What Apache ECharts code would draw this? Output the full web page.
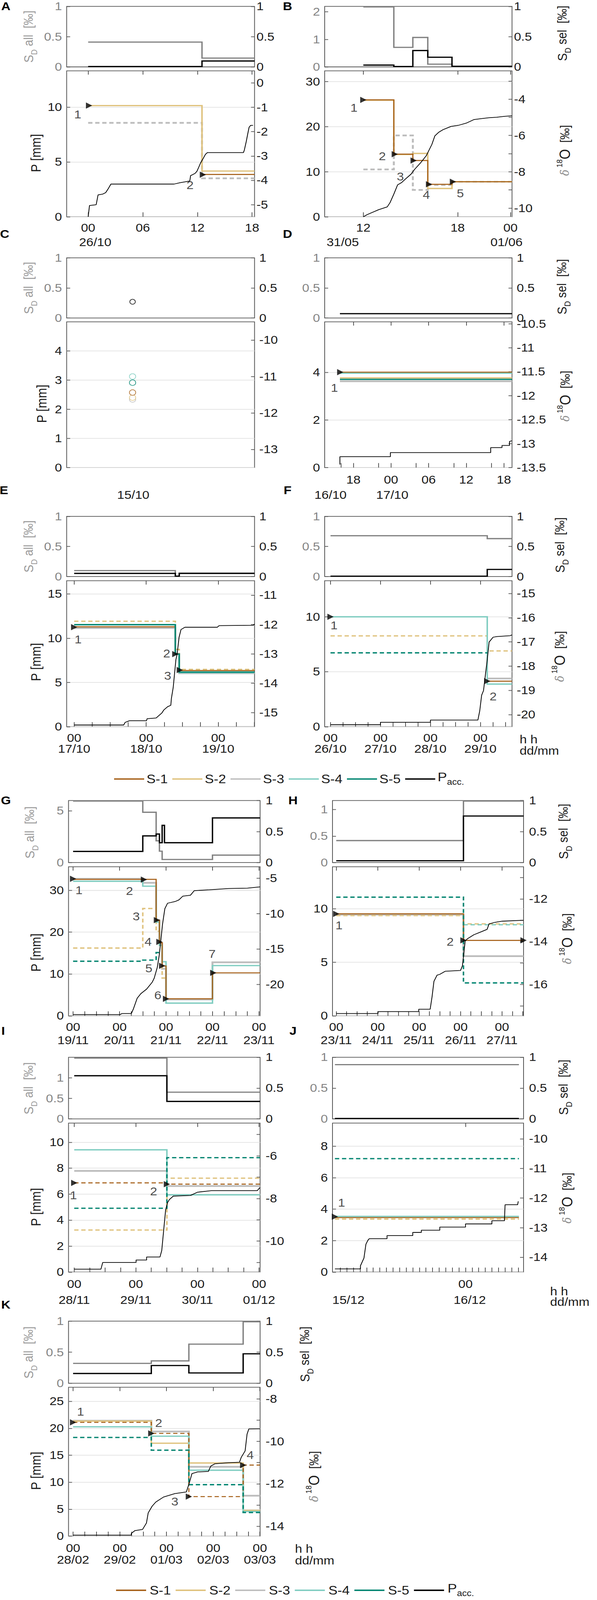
<!DOCTYPE html>
<html><head><meta charset="utf-8">
<script src="https://cdn.jsdelivr.net/npm/echarts@6/dist/echarts.min.js"></script>
<style>html,body{margin:0;padding:0;background:#fff;overflow:hidden}#c{width:1528px;height:4609px;transform-origin:0 0}</style>
</head><body><div id="c"></div>
<script>
// ===================== DATA =====================
// Panel A
const A_hhValues = [0, 6, 12, 18];
const A_hhLabels = ['00', '06', '12', '18'];
const A_dateValues = [0.78];
const A_dateLabels = ['26/10'];
const A_sdX = [0, 12.5, 18.27];
const A_sdAll = [0.41, 0.145];
const A_sdSel = [0.006, 0.098];
const A_stepX = [0, 12.5, 18.27];
const A_S1 = [null, -3.76];
const A_S2 = [-0.93, -3.62];
const A_S3 = [-1.64, -3.92];
const A_S4 = [null, null];
const A_S5 = [null, null];
const A_markX = [0.1, 12.6];
const A_markV = [-0.93, -3.77];
const A_markL = ['1', '2'];
const A_paccT = [0, 0.15, 0.88, 1.09, 1.61, 1.92, 2.23, 2.5, 9.43, 10.06, 11.16, 11.25, 11.52, 11.73, 11.94, 12.15, 12.35, 12.62, 12.88, 13.09, 17.05, 17.15, 17.36, 17.51, 17.67, 17.84, 18.1];
const A_paccP = [0, 1.03, 1.1, 2.0, 2.07, 2.2, 2.59, 2.98, 2.98, 3.1, 3.26, 3.75, 3.86, 3.95, 4.14, 4.53, 4.92, 5.3, 5.69, 5.85, 5.85, 6.08, 6.86, 7.5, 8.15, 8.33, 8.33];

// Panel B
const B_hhValues = [12, 18, 21.36];
const B_hhLabels = ['12', '18', '00'];
const B_dateValues = [10.69, 21.11];
const B_dateLabels = ['31/05', '01/06'];
const B_sdX = [12, 13.94, 15.15, 16.1, 17.64, 21.46];
const B_sdAll = [2.18, 0.71, 1.07, 0.10, 0.02];
const B_sdSel = [0.03, 0.006, 0.27, 0.16, 0.01];
const B_stepX = [12, 13.94, 15.15, 16.1, 17.64, 21.46];
const B_S1 = [-4.04, -7.03, -7.38, -8.69, -8.55];
const B_S2 = [-4.06, -7.05, -6.99, -8.92, -8.55];
const B_S3 = [-7.87, -6.0, -9.0, -8.73, -8.55];
const B_S4 = [null, null, null, null, null];
const B_S5 = [null, null, null, null, null];
const B_markX = [12.0, 14.0, 15.2, 16.18, 17.7];
const B_markV = [-4.04, -7.03, -7.38, -8.69, -8.55];
const B_markL = ['1', '2', '3', '4', '5'];
const B_paccT = [12.0, 12.24, 12.97, 13.52, 13.70, 13.94, 14.18, 14.42, 14.67, 15.03, 15.27, 15.64, 16.0, 16.36, 16.55, 16.79, 17.09, 17.58, 18.06, 18.55, 19.03, 19.52, 20.0, 20.49, 20.97, 21.46];
const B_paccP = [0, 0.47, 1.57, 2.2, 3.15, 5.04, 7.09, 7.56, 8.35, 9.45, 10.55, 11.97, 13.54, 16.06, 17.95, 18.74, 19.37, 20.06, 20.31, 20.79, 21.57, 21.8, 21.98, 22.1, 22.3, 22.43];

// Panel C (single sample)
const C_dateValues = [8.51];
const C_dateLabels = ['15/10'];
const C_sampleX = [8.42];
const C_sampleV = [-11.44, -11.58, -11.63, -11.0, -11.17]; // S-1..S-5
const C_sdSelX = [8.42];
const C_sdSelV = [0.27];
const C_markX = [8.42];
const C_markV = [-11.63];
const C_markL = ['1'];

// Panel D
const D_hhValues = [18, 24, 30, 36, 42];
const D_hhLabels = ['18', '00', '06', '12', '18'];
const D_minor = [16, 22, 28, 34, 40];
const D_dateValues = [14.35, 24.2];
const D_dateLabels = ['16/10', '17/10'];
const D_sdX = [15.85, 43.3];
const D_sdAll = [null];
const D_sdSel = [0.072];
const D_stepX = [15.85, 43.3];
const D_S1 = [-11.51];
const D_S2 = [-11.63];
const D_S3 = [-11.70];
const D_S4 = [-11.53];
const D_S5 = [-11.66];
const D_markX = [15.9];
const D_markV = [-11.51];
const D_markL = ['1'];
const D_paccT = [15.85, 15.85, 23.9, 23.9, 39.9, 39.9, 41.7, 41.7, 42.9, 42.9, 43.3];
const D_paccP = [0.13, 0.46, 0.46, 0.63, 0.63, 0.84, 0.84, 0.93, 0.93, 1.1, 1.13];

// Panel E
const E_hhValues = [0, 24, 48];
const E_hhLabels = ['00', '00', '00'];
const E_minor = [6, 12, 18, 30, 36, 42, 54, 60];
const E_dateValues = [0, 24, 48];
const E_dateLabels = ['17/10', '18/10', '19/10'];
const E_sdX = [0, 33.7, 35.0, 60.1];
const E_sdAll = [0.098, 0.006, 0.055];
const E_sdSel = [0.052, 0.006, 0.052];
const E_stepX = [0, 33.7, 35.0, 60.1];
const E_S1 = [-12.08, -13.0, -13.57];
const E_S2 = [-11.89, -12.85, -13.53];
const E_S3 = [-12.12, -13.0, -13.66];
const E_S4 = [-12.0, -13.0, -13.64];
const E_S5 = [-12.01, -13.01, -13.62];
const E_markX = [0, 33.7, 35.2];
const E_markV = [-12.09, -13.01, -13.55];
const E_markL = ['1', '2', '3'];
const E_paccT = [0, 16.5, 17.0, 18.4, 24.1, 24.3, 27.3, 29.2, 29.9, 31.1, 32.2, 32.4, 33.0, 33.4, 33.9, 34.3, 34.95, 35.6, 36.9, 47.7, 48.3, 59.7, 60.1];
const E_paccP = [0.19, 0.19, 0.49, 0.67, 0.67, 0.9, 0.98, 1.54, 1.9, 2.25, 2.42, 3.2, 4.43, 5.83, 7.58, 8.18, 10.1, 10.98, 11.24, 11.24, 11.42, 11.47, 11.6];

// Panel F
const F_hhValues = [0, 24, 48, 72];
const F_hhLabels = ['00', '00', '00', '00'];
const F_minor = [6, 12, 18, 30, 36, 42, 54, 60, 66, 78, 84];
const F_dateValues = [0, 24, 48, 72];
const F_dateLabels = ['26/10', '27/10', '28/10', '29/10'];
const F_sdX = [0, 75.3, 87.2];
const F_sdAll = [0.678, 0.63];
const F_sdSel = [0.006, 0.118];
const F_stepX = [0, 75.3, 87.2];
const F_S1 = [null, -18.62];
const F_S2 = [-16.75, -17.37];
const F_S3 = [null, -18.51];
const F_S4 = [-15.96, -18.74];
const F_S5 = [-17.45, null];
const F_markX = [0, 75.3];
const F_markV = [-15.96, -18.62];
const F_markL = ['1', '2'];
const F_paccT = [0, 24, 24, 48, 48, 70.8, 71.7, 72.6, 73.5, 75.3, 76.2, 78.1, 79.9, 86.3, 87.2];
const F_paccP = [0.18, 0.18, 0.4, 0.4, 0.6, 0.6, 1.45, 2.86, 3.28, 6.1, 7.7, 8.14, 8.2, 8.28, 8.35];

// Panel G
const G_hhValues = [0, 24, 48, 72, 96];
const G_hhLabels = ['00', '00', '00', '00', '00'];
const G_minor = [6, 12, 18, 30, 36, 42, 54, 60, 66, 78, 84, 90];
const G_dateValues = [0, 24, 48, 72, 96];
const G_dateLabels = ['19/11', '20/11', '21/11', '22/11', '23/11'];
const G_sdX = [0, 36.0, 42.9, 44.6, 46.0, 47.2, 72.0, 96.6];
const G_sdAll = [5.93, 4.85, 2.1, 1.1, 0.3, 0.3, 0.72];
const G_sdSel = [0.18, 0.43, 0.46, 0.32, 0.6, 0.32, 0.72];
const G_stepX = [0, 36.0, 42.9, 44.6, 46.0, 48.0, 72.0, 96.6];
const G_S1 = [-5.17, -5.17, -10.93, -14.1, -17.4, -22.03, -18.37];
const G_S2 = [-14.87, -9.29, -12.5, -14.5, -19.1, null, null];
const G_S3 = [-5.1, -5.66, -11.0, -14.2, -17.8, -22.13, -16.88];
const G_S4 = [-5.44, -6.14, -11.2, -14.5, -16.8, -22.64, -17.34];
const G_S5 = [-16.73, -16.57, -15.5, null, null, null, null];
const G_markX = [0, 36.6, 43.3, 44.6, 46.0, 48.0, 72.4];
const G_markV = [-5.1, -5.2, -10.93, -14.0, -17.38, -22.04, -18.37];
const G_markL = ['1', '2', '3', '4', '5', '6', '7'];
const G_paccT = [0, 24.2, 25.2, 30.1, 31.1, 33.1, 35.0, 38.0, 40.9, 41.9, 43.5, 44.5, 45.3, 46.2, 47.4, 48.8, 52.7, 54.7, 56.7, 60.6, 62.6, 70.4, 80.3, 90.1, 96.6];
const G_paccP = [0.29, 0.29, 0.55, 0.55, 1.6, 4.2, 5.3, 6.4, 8.06, 9.0, 11.6, 14.5, 17.9, 21.9, 25.6, 26.9, 27.3, 27.7, 28.6, 28.8, 29.9, 30.1, 30.4, 30.5, 30.8];

// Panel H
const H_hhValues = [0, 24, 48, 72, 96];
const H_hhLabels = ['00', '00', '00', '00', '00'];
const H_minor = [6, 12, 18, 30, 36, 42, 54, 60, 66, 78, 84, 90, 102, 108];
const H_dateValues = [0, 24, 48, 72, 96];
const H_dateLabels = ['23/11', '24/11', '25/11', '26/11', '27/11'];
const H_sdX = [0, 73.7, 108.5];
const H_sdAll = [0.415, 1.16];
const H_sdSel = [0.03, 0.75];
const H_stepX = [0, 73.7, 108.5];
const H_S1 = [-12.7, -13.94];
const H_S2 = [-12.78, -13.17];
const H_S3 = [-12.74, -14.68];
const H_S4 = [null, -13.21];
const H_S5 = [-11.92, -15.93];
const H_markX = [0, 73.7, 108.5];
const H_markV = [-12.7, -13.94, -13.94];
const H_markL = ['1', '2', ''];
const H_paccT = [0, 24.2, 24.2, 47.8, 47.8, 54.4, 55.5, 56.6, 58.4, 59.9, 63.2, 72.0, 73.1, 74.7, 76.0, 79.7, 84.1, 87.4, 88.5, 91.8, 96.2, 108.4];
const H_paccP = [0.22, 0.22, 0.4, 0.4, 0.62, 0.62, 1.78, 3.23, 3.8, 3.87, 4.17, 4.24, 4.68, 6.99, 7.2, 7.57, 7.86, 8.08, 8.58, 8.73, 8.84, 8.93];

// Panel I
const I_hhValues = [0, 24, 48, 72];
const I_hhLabels = ['00', '00', '00', '00'];
const I_minor = [6, 12, 18, 30, 36, 42, 54, 60, 66];
const I_dateValues = [0, 24, 48, 72];
const I_dateLabels = ['28/11', '29/11', '30/11', '01/12'];
const I_sdX = [0, 36.1, 72.4];
const I_sdAll = [1.48, 0.65];
const I_sdSel = [0.70, 0.284];
const I_stepX = [0, 36.1, 72.4];
const I_S1 = [-7.27, -7.33];
const I_S2 = [-9.48, -7.05];
const I_S3 = [-6.71, -7.42];
const I_S4 = [-5.72, -7.83];
const I_S5 = [-8.46, -6.09];
const I_markX = [0, 36.1];
const I_markV = [-7.27, -7.33];
const I_markL = ['1', '2'];
const I_paccT = [0, 10.4, 11.1, 24.1, 24.1, 28.2, 28.2, 33.4, 34.1, 34.9, 35.6, 36.4, 37.1, 38.6, 45.3, 48.0, 53.4, 71.3, 72.3];
const I_paccP = [0.22, 0.22, 0.74, 0.74, 0.93, 0.93, 1.16, 1.16, 1.67, 3.34, 4.78, 5.37, 5.59, 5.85, 5.9, 6.15, 6.27, 6.27, 6.5];

// Panel J
const J_hhValues = [24];
const J_hhLabels = ['00'];
const J_minor = [5, 6, 7, 8, 9, 10, 11, 12, 13, 14, 15, 16, 17, 18, 19, 20, 21, 22, 23, 25, 26, 27, 28, 29, 30, 31, 32];
const J_dateValues = [6.25, 24.64];
const J_dateLabels = ['15/12', '16/12'];
const J_sdX = [4.2, 32.1];
const J_sdAll = [0.88];
const J_sdSel = [0.008];
const J_stepX = [4.2, 32.1];
const J_S1 = [-12.66];
const J_S2 = [-12.71];
const J_S3 = [null];
const J_S4 = [-12.62];
const J_S5 = [-10.67];
const J_markX = [4.2];
const J_markV = [-12.63];
const J_markL = ['1'];
const J_paccT = [4.2, 8.07, 8.07, 8.6, 8.9, 9.2, 9.4, 12.1, 12.1, 16.0, 16.0, 17.3, 17.3, 20.1, 20.1, 24.0, 24.0, 28.0, 28.0, 29.9, 30.0, 31.9, 32.0];
const J_paccP = [0.2, 0.2, 0.4, 0.89, 1.77, 2.02, 2.12, 2.12, 2.32, 2.32, 2.52, 2.52, 2.66, 2.66, 2.86, 2.86, 3.06, 3.06, 3.26, 3.26, 4.28, 4.28, 4.5];

// Panel K
const K_hhValues = [0, 24, 48, 72, 96];
const K_hhLabels = ['00', '00', '00', '00', '00'];
const K_minor = [6, 12, 18, 30, 36, 42, 54, 60, 66, 78, 84, 90];
const K_dateValues = [0, 24, 48, 72, 96];
const K_dateLabels = ['28/02', '29/02', '01/03', '02/03', '03/03'];
const K_sdX = [0, 40.2, 59.5, 87.4, 96.1];
const K_sdAll = [0.32, 0.36, 0.63, 0.99];
const K_sdSel = [0.157, 0.285, 0.166, 0.474];
const K_stepX = [0, 40.2, 59.5, 87.4, 96.1];
const K_S1 = [-9.11, -9.63, -12.6, -11.12];
const K_S2 = [-9.05, -10.09, -11.02, -13.25];
const K_S3 = [-9.03, -9.54, -11.2, -12.56];
const K_S4 = [-9.32, -9.76, -11.36, -13.3];
const K_S5 = [-9.82, -10.42, -12.04, -13.35];
const K_markX = [0, 40.2, 59.5, 87.4];
const K_markV = [-9.11, -9.63, -12.6, -11.12];
const K_markL = ['1', '2', '3', '4'];
const K_paccT = [0, 29.9, 29.9, 31.8, 35.7, 37.7, 38.6, 40.6, 42.5, 46.5, 52.3, 58.2, 59.5, 61.1, 64.0, 69.5, 70.8, 72.8, 79.6, 85.5, 86.4, 88.4, 89.4, 90.3, 96.0];
const K_paccP = [0.19, 0.19, 0.5, 1.03, 1.24, 2.43, 4.3, 5.54, 6.32, 7.25, 7.88, 8.19, 9.6, 11.6, 11.9, 12.0, 13.0, 13.4, 13.6, 13.7, 14.6, 15.8, 18.9, 19.87, 19.9];

const LEGEND_NAMES = ['S-1', 'S-2', 'S-3', 'S-4', 'S-5'];

// ===================== STYLE / LAYOUT =====================
const FONT = "'Liberation Sans', Arial, sans-serif";
const FS = 33;
const SCOL = ['#a6611a', '#dfc27d', '#bdbdbd', '#80cdc1', '#018571'];
const GRAYL = '#858585';
const TXT = '#1a1a1a';
const TICK = '#555';
const BORDER = '#555';
const DRAW_ORDER = [2, 1, 3, 0, 4];

const panels = [
  {L:'A', letter:[15,18], left:170.6, right:651.5, top:[18.4,192.7], bot:[204,624.5], xMin:-2.36, xMax:18.27,
   hhV:A_hhValues, hhL:A_hhLabels, minor:[], dateV:A_dateValues, dateL:A_dateLabels, hhM:15, dateM:57,
   sdMax:1, sdTicks:[0,0.5,1], sdX:A_sdX, sdAll:A_sdAll, sdSel:A_sdSel,
   pMax:13.3, pInt:5, pTicks:[0,5,10], dMin:-5.5, dMax:0.5, dTicks:[-5,-4,-3,-2,-1,0], dMinor:[],
   stepX:A_stepX, S:[A_S1,A_S2,A_S3,A_S4,A_S5], dash:[false,false,true,false,false],
   mX:A_markX, mV:A_markV, mL:A_markL, mOff:[[-29,26],[-33,30]], paccT:A_paccT, paccP:A_paccP,
   rM:5, leftSD:[73,105.5], pName:[92,441]},
  {L:'B', letter:[736,18], left:831, right:1310.5, top:[18.4,192.7], bot:[204,624.5], xMin:9.54, xMax:21.46,
   hhV:B_hhValues, hhL:B_hhLabels, minor:[], dateV:B_dateValues, dateL:B_dateLabels, hhM:15, dateM:57,
   sdMax:2.2, sdTicks:[0,1,2], sdX:B_sdX, sdAll:B_sdAll, sdSel:B_sdSel,
   pMax:32.4, pInt:10, pTicks:[0,10,20,30], dMin:-10.48, dMax:-2.44, dTicks:[-10,-8,-6,-4], dMinor:[-9,-7,-5,-3],
   stepX:B_stepX, S:[B_S1,B_S2,B_S3,B_S4,B_S5], dash:[false,false,true,false,false],
   mX:B_markX, mV:B_markV, mL:B_markL, mOff:[[-24,23],[-32,6],[-34,46],[-7,31],[19,34]], paccT:B_paccT, paccP:B_paccP,
   rM:5, rightSD:[1439,96], dName:[1446,433]},
  {L:'C', letter:[12,674], left:170.6, right:651.5, top:[742.9,916], bot:[927,1347], xMin:0, xMax:24,
   hhV:[], hhL:[], minor:[], dateV:C_dateValues, dateL:C_dateLabels, hhM:15, dateM:62,
   sdMax:1, sdTicks:[0,0.5,1], sdX:null,
   pMax:5, pInt:1, pTicks:[0,1,2,3,4], dMin:-13.5, dMax:-9.5, dTicks:[-13,-12,-11,-10], dMinor:[],
   circles:true, mX:C_markX, mV:C_markV, mL:C_markL, mOff:[[2,63]], markNone:true,
   rM:12, leftSD:[73,829.5], pName:[107,1163]},
  {L:'D', letter:[736,674], left:831, right:1310.5, top:[742.9,916], bot:[927,1347], xMin:13.42, xMax:43.3,
   hhV:D_hhValues, hhL:D_hhLabels, minor:D_minor, dateV:D_dateValues, dateL:D_dateLabels, hhM:18, dateM:62,
   sdMax:1, sdTicks:[0,0.5,1], sdX:D_sdX, sdAll:D_sdAll, sdSel:D_sdSel,
   pMax:6.13, pInt:2, pTicks:[0,2,4], dMin:-13.5, dMax:-10.46, dTicks:[-13.5,-13,-12.5,-12,-11.5,-11,-10.5], dMinor:[],
   stepX:D_stepX, S:[D_S1,D_S2,D_S3,D_S4,D_S5], dash:[false,false,false,false,false],
   mX:D_markX, mV:D_markV, mL:D_markL, mOff:[[-15,45]], paccT:D_paccT, paccP:D_paccP,
   rM:12, rightSD:[1438,826], dName:[1447,1141], topRPad:[0,0,14,0], botRPad:[12,0,0,0]},
  {L:'E', letter:[10,1412], left:170.6, right:651.5, top:[1487.5,1660.7], bot:[1672.8,2093.3], xMin:-2.5, xMax:60.1,
   hhV:E_hhValues, hhL:E_hhLabels, minor:E_minor, dateV:E_dateValues, dateL:E_dateLabels, hhM:16, dateM:48,
   sdMax:1, sdTicks:[0,0.5,1], sdX:E_sdX, sdAll:E_sdAll, sdSel:E_sdSel,
   pMax:16.5, pInt:5, pTicks:[0,5,10,15], dMin:-15.48, dMax:-10.51, dTicks:[-15,-14,-13,-12,-11], dMinor:[],
   stepX:E_stepX, S:[E_S1,E_S2,E_S3,E_S4,E_S5], dash:[false,true,false,false,false],
   mX:E_markX, mV:E_markV, mL:E_markL, mOff:[[10,36],[-22,-2],[-31,17]], paccT:E_paccT, paccP:E_paccP,
   rM:12, leftSD:[73,1574], pName:[92,1907]},
  {L:'F', letter:[736,1412], left:831, right:1310.5, top:[1487.5,1660.7], bot:[1672.8,2093.3], xMin:-2.8, xMax:87.2,
   hhV:F_hhValues, hhL:F_hhLabels, minor:F_minor, dateV:F_dateValues, dateL:F_dateLabels, hhM:16, dateM:48,
   sdMax:1, sdTicks:[0,0.5,1], sdX:F_sdX, sdAll:F_sdAll, sdSel:F_sdSel,
   pMax:13.28, pInt:5, pTicks:[0,5,10], dMin:-20.5, dMax:-14.47, dTicks:[-20,-19,-18,-17,-16,-15], dMinor:[],
   stepX:F_stepX, S:[F_S1,F_S2,F_S3,F_S4,F_S5], dash:[false,true,false,false,true],
   mX:F_markX, mV:F_markV, mL:F_markL, mOff:[[9,25],[15,44]], paccT:F_paccT, paccP:F_paccP,
   rM:12, rightSD:[1433,1570], dName:[1433,1891], hhdd:[1330,2130,2163]},
  {L:'G', letter:[15,2306], left:175.4, right:665.7, top:[2306,2484.8], bot:[2496.9,2926.3], xMin:-2.36, xMax:96.6,
   hhV:G_hhValues, hhL:G_hhLabels, minor:G_minor, dateV:G_dateValues, dateL:G_dateLabels, hhM:16, dateM:54,
   sdMax:5.98, sdTicks:[0,5], sdX:G_sdX, sdAll:G_sdAll, sdSel:G_sdSel,
   pMax:35.6, pInt:10, pTicks:[0,10,20,30], dMin:-24.44, dMax:-3.4, dTicks:[-20,-15,-10,-5], dMinor:[],
   stepX:G_stepX, S:[G_S1,G_S2,G_S3,G_S4,G_S5], dash:[false,true,false,false,true],
   mX:G_markX, mV:G_markV, mL:G_markL, mOff:[[15,33],[-37,33],[-53,-11],[-29,0],[-34,7],[-21,-10],[-3,-54]], paccT:G_paccT, paccP:G_paccP,
   rM:14, leftSD:[76,2398], pName:[92,2744]},
  {L:'H', letter:[750,2306], left:851, right:1340, top:[2306,2484.8], bot:[2496.9,2926.3], xMin:-2.17, xMax:108.5,
   hhV:H_hhValues, hhL:H_hhLabels, minor:H_minor, dateV:H_dateValues, dateL:H_dateLabels, hhM:16, dateM:54,
   sdMax:1.17, sdTicks:[0,0.5,1], sdX:H_sdX, sdAll:H_sdAll, sdSel:H_sdSel,
   pMax:13.92, pInt:5, pTicks:[0,5,10], dMin:-17.47, dMax:-10.5, dTicks:[-16,-14,-12], dMinor:[-17,-15,-13,-11],
   stepX:H_stepX, S:[H_S1,H_S2,H_S3,H_S4,H_S5], dash:[false,true,false,true,true],
   mX:H_markX, mV:H_markV, mL:H_markL, mOff:[[7,33],[-34,4],[0,0]], paccT:H_paccT, paccP:H_paccP,
   rM:14, rightSD:[1442,2395], dName:[1452,2704]},
  {L:'I', letter:[8,2970], left:175.4, right:665.7, top:[3045.5,3223.2], bot:[3235.3,3664.3], xMin:-2.22, xMax:72.4,
   hhV:I_hhValues, hhL:I_hhLabels, minor:I_minor, dateV:I_dateValues, dateL:I_dateLabels, hhM:18, dateM:64,
   sdMax:1.5, sdTicks:[0,0.5,1], sdX:I_sdX, sdAll:I_sdAll, sdSel:I_sdSel,
   pMax:11.47, pInt:2, pTicks:[0,2,4,6,8,10], dMin:-11.45, dMax:-4.47, dTicks:[-10,-8,-6], dMinor:[-11,-9,-7,-5],
   stepX:I_stepX, S:[I_S1,I_S2,I_S3,I_S4,I_S5], dash:[true,true,false,false,true],
   mX:I_markX, mV:I_markV, mL:I_markL, mOff:[[-2,36],[-34,21]], paccT:I_paccT, paccP:I_paccP,
   rM:14, leftSD:[73,3135], pName:[92,3477]},
  {L:'J', letter:[750,2970], left:851, right:1340, top:[3045.5,3223.2], bot:[3235.3,3664.3], xMin:3.83, xMax:32.8,
   hhV:J_hhValues, hhL:J_hhLabels, minor:J_minor, dateV:J_dateValues, dateL:J_dateLabels, hhM:18, dateM:64,
   sdMax:1, sdTicks:[0,0.5,1], sdX:J_sdX, sdAll:J_sdAll, sdSel:J_sdSel,
   pMax:9.47, pInt:2, pTicks:[0,2,4,6,8], dMin:-14.5, dMax:-9.47, dTicks:[-14,-13,-12,-11,-10], dMinor:[],
   stepX:J_stepX, S:[J_S1,J_S2,J_S3,J_S4,J_S5], dash:[false,true,false,false,true],
   mX:J_markX, mV:J_markV, mL:J_markL, mOff:[[17,-40]], paccT:J_paccT, paccP:J_paccP,
   rM:14, rightSD:[1442,3132], dName:[1452,3451], hhdd:[1408,3720,3751]},
  {L:'K', letter:[15,3758], left:175.4, right:665.7, top:[3805.8,3984.6], bot:[3996.2,4425], xMin:-2.34, xMax:96.1,
   hhV:K_hhValues, hhL:K_hhLabels, minor:K_minor, dateV:K_dateValues, dateL:K_dateLabels, hhM:18, dateM:52,
   sdMax:1, sdTicks:[0,0.5,1], sdX:K_sdX, sdAll:K_sdAll, sdSel:K_sdSel,
   pMax:27.6, pInt:5, pTicks:[0,5,10,15,20,25], dMin:-14.46, dMax:-7.46, dTicks:[-14,-12,-10,-8], dMinor:[-13,-11,-9],
   stepX:K_stepX, S:[K_S1,K_S2,K_S3,K_S4,K_S5], dash:[true,false,false,false,true],
   mX:K_markX, mV:K_markV, mL:K_markL, mOff:[[19,-31],[19,-30],[-36,15],[18,-29]], paccT:K_paccT, paccP:K_paccP,
   rM:14, leftSD:[73,3896], pName:[92,4237], rightSD:[780,3901], dName:[804,4253], hhdd:[755,4462,4496]}
];

// ===================== BUILD =====================
const option = {animation:false, backgroundColor:'#fff', grid:[], xAxis:[], yAxis:[], series:[], graphic:[]};

function lab(vals, labels) {
  return function (v) {
    for (let i = 0; i < vals.length; i++) if (Math.abs(vals[i] - v) < 1e-6) return labels[i];
    return '';
  };
}
function stepSegments(X, V) {
  const segs = []; let cur = null;
  for (let i = 0; i < V.length; i++) {
    if (V[i] == null) {
      if (cur) { cur.push([X[i], cur[cur.length - 1][1]]); segs.push(cur); cur = null; }
      continue;
    }
    if (!cur) cur = [];
    cur.push([X[i], V[i]]);
  }
  if (cur) { cur.push([X[V.length], cur[cur.length - 1][1]]); segs.push(cur); }
  return segs;
}
function yAx(g, pos, min, max, labels, ticks, color, margin, pad) {
  const lbl = {show:true, customValues:labels, color:color, fontSize:FS, fontFamily:FONT, margin:margin};
  if (pad) lbl.padding = pad;
  return {type:'value', gridIndex:g, position:pos, min:min, max:max,
    axisLine:{show:false, onZero:false}, splitLine:{show:false},
    axisTick:{show:true, inside:true, length:9, customValues:ticks, lineStyle:{color:TICK, width:2}},
    axisLabel:lbl};
}
function addStep(X, V, xi, yi, color, width, dashed, z) {
  stepSegments(X, V).forEach(function (seg) {
    option.series.push({type:'line', xAxisIndex:xi, yAxisIndex:yi, data:seg, step:'end', symbol:'none', silent:true, z:z,
      lineStyle:{color:color, width:width, type:dashed ? [11, 7] : 'solid', cap:'butt', join:'miter'}});
  });
}
function txt(x, y, text, opts) {
  opts = opts || {};
  option.graphic.push({type:'text', x:x, y:y, rotation:opts.rot || 0, silent:true, z:100,
    style:Object.assign({text:text, fontSize:opts.fs || FS, fontFamily:FONT, fontWeight:opts.fw || 'normal',
      fill:opts.color || TXT, align:opts.align || 'center', verticalAlign:'middle',
      textAlign:opts.align || 'center', textVerticalAlign:'middle'}, opts.rich ? {rich:opts.rich} : {})});
}

function buildPanel(p) {
  const W = p.right - p.left;
  const gT = option.grid.length, gB = gT + 1;
  option.grid.push({left:p.left, top:p.top[0], width:W, height:p.top[1] - p.top[0], show:true, borderColor:BORDER, borderWidth:2, containLabel:false});
  option.grid.push({left:p.left, top:p.bot[0], width:W, height:p.bot[1] - p.bot[0], show:true, borderColor:BORDER, borderWidth:2, containLabel:false});
  const hasHH = p.hhV.length > 0;
  const xT = option.xAxis.length;
  option.xAxis.push({type:'value', gridIndex:gT, min:p.xMin, max:p.xMax, show:false, axisLine:{onZero:false}});
  const xB = xT + 1;
  option.xAxis.push({type:'value', gridIndex:gB, min:p.xMin, max:p.xMax, position:'bottom',
    axisLine:{show:false, onZero:false}, splitLine:{show:false},
    axisTick:{show:hasHH, inside:true, length:13, customValues:hasHH ? p.hhV.concat(p.minor) : [0], lineStyle:{color:TICK, width:2}},
    axisLabel:{show:hasHH, customValues:hasHH ? p.hhV : [0], formatter:lab(p.hhV, p.hhL), margin:p.hhM, fontSize:FS, fontFamily:FONT, color:TXT}});
  option.xAxis.push({type:'value', gridIndex:gB, min:p.xMin, max:p.xMax, position:'top',
    axisLine:{show:false, onZero:false}, splitLine:{show:false},
    axisTick:{show:hasHH, inside:true, length:11, customValues:hasHH ? p.hhV : [0], lineStyle:{color:TICK, width:2}},
    axisLabel:{show:false}});
  option.xAxis.push({type:'value', gridIndex:gB, min:p.xMin, max:p.xMax, position:'bottom',
    axisLine:{show:false, onZero:false}, splitLine:{show:false}, axisTick:{show:false},
    axisLabel:{show:true, customValues:p.dateV, formatter:lab(p.dateV, p.dateL), margin:p.dateM, fontSize:FS, fontFamily:FONT, color:TXT}});

  const yTL = option.yAxis.length;
  option.yAxis.push(yAx(gT, 'left', 0, p.sdMax, p.sdTicks, p.sdTicks, GRAYL, 12));
  option.yAxis.push(yAx(gT, 'right', 0, 1, [0, 0.5, 1], [0, 0.5, 1], TXT, p.rM, p.topRPad));
  const pAx = yAx(gB, 'left', 0, p.pMax, p.pTicks, p.pTicks, TXT, 12);
  pAx.interval = p.pInt;
  pAx.splitLine = {show:true, lineStyle:{color:'#e2e2e2', width:2}};
  option.yAxis.push(pAx);
  option.yAxis.push(yAx(gB, 'right', p.dMin, p.dMax, p.dTicks, p.dTicks.concat(p.dMinor), TXT, p.rM, p.botRPad));
  const yTR = yTL + 1, yBL = yTL + 2, yBR = yTL + 3;

  // top: standard deviations
  if (p.sdX) {
    addStep(p.sdX, p.sdAll, xT, yTL, '#808080', 3.5, false, 3);
    addStep(p.sdX, p.sdSel, xT, yTR, '#000', 3.5, false, 4);
  } else {
    option.series.push({type:'scatter', xAxisIndex:xT, yAxisIndex:yTR, symbol:'emptyCircle', symbolSize:14, silent:true,
      itemStyle:{color:'#000', borderColor:'#000', borderWidth:3}, data:C_sdSelX.map(function (x, i) { return [x, C_sdSelV[i]]; })});
  }
  // bottom: isotope samples
  if (p.circles) {
    DRAW_ORDER.forEach(function (k) {
      option.series.push({type:'scatter', xAxisIndex:xB, yAxisIndex:yBR, symbol:'emptyCircle', symbolSize:16, silent:true, z:3,
        itemStyle:{color:SCOL[k], borderColor:SCOL[k], borderWidth:3.5}, data:[[C_sampleX[0], C_sampleV[k]]]});
    });
  } else {
    DRAW_ORDER.forEach(function (k) {
      addStep(p.stepX, p.S[k], xB, yBR, SCOL[k], k === 2 ? 5 : (k === 0 ? 3 : 3.8), p.dash[k], 3);
    });
  }
  if (p.paccT) {
    option.series.push({type:'line', xAxisIndex:xB, yAxisIndex:yBL, symbol:'none', silent:true, z:5,
      lineStyle:{color:'#000', width:2}, data:p.paccT.map(function (t, i) { return [t, p.paccP[i]]; })});
  }
  option.series.push({type:'scatter', xAxisIndex:xB, yAxisIndex:yBR, silent:true, z:8,
    symbol:p.markNone ? 'none' : 'triangle', symbolRotate:-90, symbolSize:[18, 16], itemStyle:{color:'#000'},
    label:{show:true, position:'inside', formatter:'{b}', fontSize:FS, fontFamily:FONT, color:TXT},
    data:p.mX.map(function (x, i) { return {value:[x, p.mV[i]], name:p.mL[i], label:{offset:p.mOff[i]}}; })});

  // texts
  txt(p.letter[0], p.letter[1], p.L, {fw:'bold', fs:33, color:'#000'});
  const R = Math.PI / 2;
  const richSub = function (col) {
    return {s:{fontSize:34, fontFamily:FONT, fill:col, color:col, lineHeight:50, verticalAlign:'middle'},
            sub:{fontSize:22, fontFamily:FONT, fill:col, color:col, lineHeight:50, verticalAlign:'bottom'},
            t:{fontSize:33, fontFamily:FONT, fill:col, color:col, lineHeight:50, verticalAlign:'middle'}};
  };
  if (p.leftSD) {
    txt(p.leftSD[0], p.leftSD[1], '{s|S}{sub|D}{t| all  [‰]}', {rot:R, rich:richSub('#9a9a9a'), color:'#9a9a9a'});
    txt(p.pName[0], p.pName[1], 'P [mm]', {rot:R, fs:35});
  }
  if (p.rightSD) {
    txt(p.rightSD[0], p.rightSD[1], '{s|S}{sub|D}{t| sel  [‰]}', {rot:R, rich:richSub(TXT)});
    txt(p.dName[0], p.dName[1], '{d|δ}{sup| 18}{o|O}{t|  [‰]}', {rot:R, rich:{
      d:{fontSize:30, fontStyle:'italic', fontFamily:'DejaVu Serif, serif', fill:'#8a8a8a', color:'#8a8a8a', lineHeight:50, verticalAlign:'middle'},
      sup:{fontSize:21, fontFamily:FONT, fill:TXT, color:TXT, lineHeight:50, verticalAlign:'top'},
      o:{fontSize:38, fontFamily:FONT, fill:TXT, color:TXT, lineHeight:50, verticalAlign:'middle'},
      t:{fontSize:33, fontFamily:FONT, fill:TXT, color:TXT, lineHeight:50, verticalAlign:'middle'}}});
  }
  if (p.hhdd) {
    txt(p.hhdd[0], p.hhdd[1], 'h h', {align:'left'});
    txt(p.hhdd[0], p.hhdd[2], 'dd/mm', {align:'left'});
  }
}
panels.forEach(buildPanel);

function legendRow(x0, step, y, offT) {
  const cols = SCOL.concat(['#000']);
  for (let i = 0; i < 6; i++) {
    const x = x0 + i * step;
    option.graphic.push({type:'line', silent:true, shape:{x1:x, y1:y, x2:x + 77, y2:y}, style:{stroke:cols[i], lineWidth:4}});
    if (i < 5) txt(x + offT, y, LEGEND_NAMES[i], {align:'left', fs:35});
    else txt(x + offT, y - 2, '{p|P}{a|acc.}', {align:'left', rich:{
      p:{fontSize:36, fontFamily:FONT, fill:TXT, color:TXT, lineHeight:44, verticalAlign:'top'},
      a:{fontSize:24, fontFamily:FONT, fill:TXT, color:TXT, lineHeight:44, verticalAlign:'bottom'}}});
  }
}
legendRow(292, 149, 2244, 83);
legendRow(297, 152.5, 4581, 86);

// The window may be shorter than the figure; fit the whole figure vertically into the visible area.
const box = document.getElementById('c');
const vh = window.innerHeight || 4609;
if (vh < 4609) box.style.transform = 'scaleY(' + (vh / 4609) + ')';

const chart = echarts.init(box, null, {renderer:'svg', width:1528, height:4609});
chart.setOption(option);
</script></body></html>
